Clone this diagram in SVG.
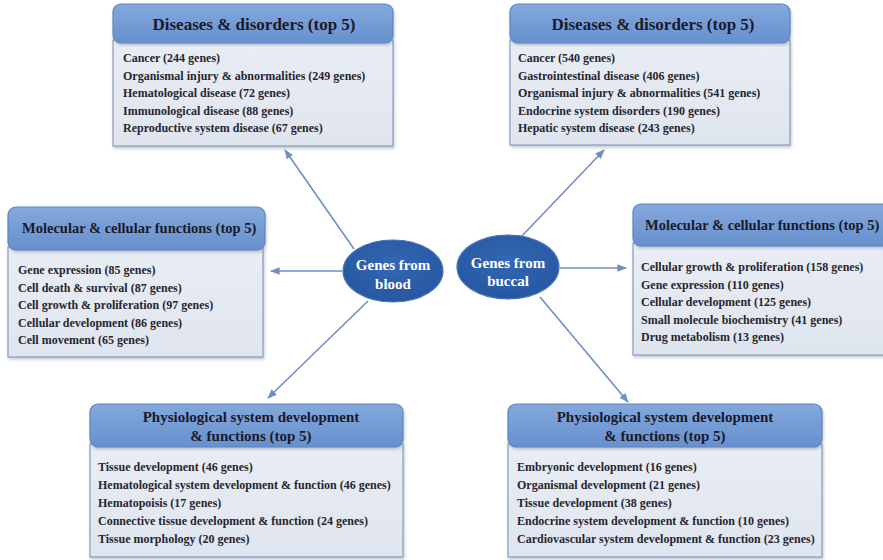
<svg xmlns="http://www.w3.org/2000/svg" width="883" height="560" viewBox="0 0 883 560">
  <defs>
    <linearGradient id="hdr" x1="0" y1="0" x2="0" y2="1">
      <stop offset="0" stop-color="#84a8dc"/>
      <stop offset="1" stop-color="#6690cd"/>
    </linearGradient>
    <linearGradient id="bdy" x1="0" y1="0" x2="0" y2="1">
      <stop offset="0" stop-color="#e9edf4"/>
      <stop offset="1" stop-color="#dfe5ef"/>
    </linearGradient>
    <radialGradient id="oval" cx="0.5" cy="0.4" r="0.6">
      <stop offset="0" stop-color="#3467b2"/>
      <stop offset="1" stop-color="#2657a3"/>
    </radialGradient>
    <filter id="shadow" x="-5%" y="-5%" width="110%" height="115%">
      <feDropShadow dx="1" dy="2" stdDeviation="1.5" flood-color="#7a8aa3" flood-opacity="0.45"/>
    </filter>
    <marker id="arrow" viewBox="0 0 10 10" refX="9" refY="5" markerWidth="6" markerHeight="6" orient="auto">
      <path d="M0,1 L10,5 L0,9 Z" fill="#6f8fc4"/>
    </marker>
  </defs>
  <style>
    .hdr { fill: url(#hdr); stroke: #5d86c2; stroke-width: 1.2; filter: url(#shadow); }
    .bdy { fill: url(#bdy); stroke: #8b9cb9; stroke-width: 1.2; filter: url(#shadow); }
    .title { font-family: "Liberation Serif", "Times New Roman", serif; font-weight: bold; font-size: 17px; fill: #1a1a2a; }
    .title.mid { font-size: 14.5px; }
    .title.phys { font-size: 15px; }
    .item { font-family: "Liberation Serif", "Times New Roman", serif; font-weight: bold; font-size: 12px; fill: #262630; }
    .oval { fill: url(#oval); stroke: #4a74b8; stroke-width: 1.2; }
    .ovaltxt { font-family: "Liberation Serif", "Times New Roman", serif; font-weight: bold; font-size: 15px; fill: #ffffff; text-anchor: middle; }
    .link { stroke: #6f8fc4; stroke-width: 1.6; fill: none; marker-end: url(#arrow); }
  </style>
  <rect width="883" height="560" fill="#ffffff"/>

  <g id="connectors">
    <line class="link" x1="354" y1="249" x2="285" y2="150"/>
    <line class="link" x1="342" y1="271" x2="271" y2="271"/>
    <line class="link" x1="368" y1="301" x2="268" y2="398"/>
    <line class="link" x1="521" y1="237" x2="604" y2="150"/>
    <line class="link" x1="560" y1="268" x2="626" y2="268"/>
    <line class="link" x1="540" y1="297" x2="628" y2="402"/>
  </g>

  <g id="blood-diseases">
    <rect class="bdy" x="113" y="40" width="280" height="106"/>
    <rect class="hdr" x="113" y="4" width="280" height="39" rx="8"/>
    <text class="title" x="254" y="30" text-anchor="middle">Diseases &amp; disorders (top 5)</text>
    <text class="item" x="123" y="62">Cancer (244 genes)</text>
    <text class="item" x="123" y="79.5">Organismal injury &amp; abnormalities (249 genes)</text>
    <text class="item" x="123" y="97">Hematological disease (72 genes)</text>
    <text class="item" x="123" y="114.5">Immunological disease (88 genes)</text>
    <text class="item" x="123" y="132">Reproductive system disease (67 genes)</text>
  </g>

  <g id="buccal-diseases">
    <rect class="bdy" x="510" y="40" width="280" height="105"/>
    <rect class="hdr" x="510" y="4" width="280" height="39" rx="8"/>
    <text class="title" x="653" y="30" text-anchor="middle">Diseases &amp; disorders (top 5)</text>
    <text class="item" x="518" y="62">Cancer (540 genes)</text>
    <text class="item" x="518" y="79.5">Gastrointestinal disease (406 genes)</text>
    <text class="item" x="518" y="97">Organismal injury &amp; abnormalities (541 genes)</text>
    <text class="item" x="518" y="114.5">Endocrine system disorders (190 genes)</text>
    <text class="item" x="518" y="132">Hepatic system disease (243 genes)</text>
  </g>

  <g id="blood-molecular">
    <rect class="bdy" x="8" y="247" width="255" height="110"/>
    <rect class="hdr" x="8" y="207" width="257" height="43" rx="8"/>
    <text class="title mid" x="22" y="233">Molecular &amp; cellular functions (top 5)</text>
    <text class="item" x="18" y="274">Gene expression (85 genes)</text>
    <text class="item" x="18" y="291.5">Cell death &amp; survival (87 genes)</text>
    <text class="item" x="18" y="309">Cell growth &amp; proliferation (97 genes)</text>
    <text class="item" x="18" y="326.5">Cellular development (86 genes)</text>
    <text class="item" x="18" y="344">Cell movement (65 genes)</text>
  </g>

  <g id="buccal-molecular">
    <rect class="bdy" x="633" y="243" width="262" height="112"/>
    <rect class="hdr" x="633" y="204" width="262" height="42" rx="8"/>
    <text class="title mid" x="645" y="230">Molecular &amp; cellular functions (top 5)</text>
    <text class="item" x="641" y="271">Cellular growth &amp; proliferation (158 genes)</text>
    <text class="item" x="641" y="288.5">Gene expression (110 genes)</text>
    <text class="item" x="641" y="306">Cellular development (125 genes)</text>
    <text class="item" x="641" y="323.5">Small molecule biochemistry (41 genes)</text>
    <text class="item" x="641" y="341">Drug metabolism (13 genes)</text>
  </g>

  <g id="blood-physiological">
    <rect class="bdy" x="90" y="444" width="313" height="113"/>
    <rect class="hdr" x="90" y="404" width="313" height="43" rx="8"/>
    <text class="title phys" x="251" y="422" text-anchor="middle">Physiological system development</text>
    <text class="title phys" x="251" y="441" text-anchor="middle">&amp; functions (top 5)</text>
    <text class="item" x="98" y="471">Tissue development (46 genes)</text>
    <text class="item" x="98" y="489">Hematological system development &amp; function (46 genes)</text>
    <text class="item" x="98" y="507">Hematopoisis (17 genes)</text>
    <text class="item" x="98" y="525">Connective tissue development &amp; function (24 genes)</text>
    <text class="item" x="98" y="543">Tissue morphology (20 genes)</text>
  </g>

  <g id="buccal-physiological">
    <rect class="bdy" x="508" y="444" width="314" height="113"/>
    <rect class="hdr" x="508" y="404" width="314" height="43" rx="8"/>
    <text class="title phys" x="665" y="422" text-anchor="middle">Physiological system development</text>
    <text class="title phys" x="665" y="441" text-anchor="middle">&amp; functions (top 5)</text>
    <text class="item" x="517" y="471">Embryonic development (16 genes)</text>
    <text class="item" x="517" y="489">Organismal development (21 genes)</text>
    <text class="item" x="517" y="507">Tissue development (38 genes)</text>
    <text class="item" x="517" y="525">Endocrine system development &amp; function (10 genes)</text>
    <text class="item" x="517" y="543">Cardiovascular system development &amp; function (23 genes)</text>
  </g>

  <g id="genes-blood">
    <ellipse class="oval" cx="393" cy="271" rx="50" ry="31"/>
    <text class="ovaltxt" x="393" y="270">Genes from</text>
    <text class="ovaltxt" x="393" y="289">blood</text>
  </g>

  <g id="genes-buccal">
    <ellipse class="oval" cx="508" cy="267" rx="51" ry="32"/>
    <text class="ovaltxt" x="508" y="268">Genes from</text>
    <text class="ovaltxt" x="508" y="286">buccal</text>
  </g>
</svg>
